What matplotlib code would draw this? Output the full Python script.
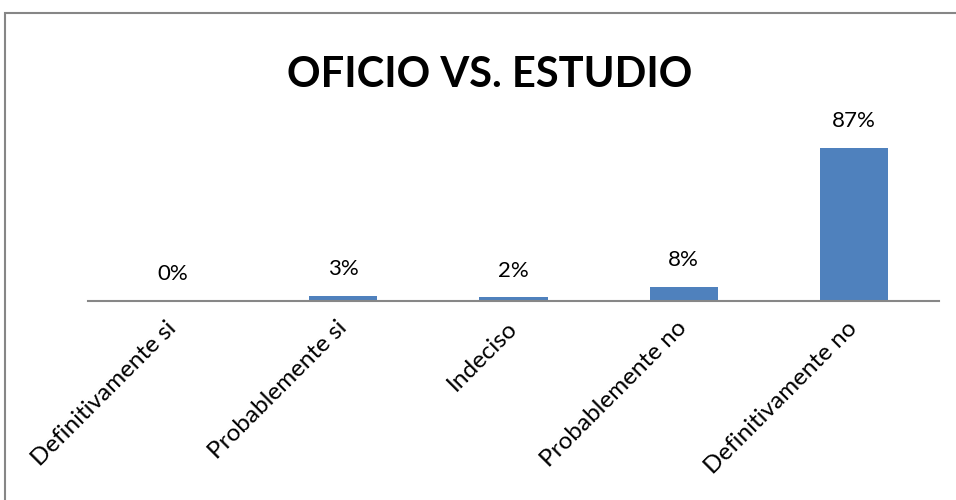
import matplotlib.pyplot as plt
from matplotlib.patches import Rectangle

# datos
categorias = ['Definitivamente si', 'Probablemente si', 'Indeciso',
              'Probablemente no', 'Definitivamente no']
porcentajes = [0, 3, 2, 8, 87]
etiquetas = ['0%', '3%', '2%', '8%', '87%']

plt.rcParams['font.family'] = ['Lato', 'DejaVu Sans']

fig = plt.figure(figsize=(9.56, 5), dpi=100)
ax = fig.add_axes([88/956, 1-301/500, (939-88)/956, (301-125)/500])

x = range(len(categorias))
ax.bar(x, [p/100 for p in porcentajes], width=0.4, color='#4F81BD')

for i, p in enumerate(porcentajes):
    ax.annotate(etiquetas[i], (i, p/100), xytext=(0, 12), textcoords='offset points',
                ha='center', va='bottom', fontsize=16)

ax.set_xlim(-0.5, len(categorias) - 0.5)
ax.set_ylim(0, 1)
ax.set_yticks([])
ax.set_xticks(list(x))
ax.set_xticklabels(categorias, rotation=45, ha='right', va='center',
                   rotation_mode='anchor', fontsize=17.5)
ax.tick_params(axis='x', length=0, pad=17)
for s in ['top', 'right', 'left']:
    ax.spines[s].set_visible(False)
ax.spines['bottom'].set_color('#878787')
ax.spines['bottom'].set_linewidth(1.5)

fig.text(490/956, 1-75/500, 'OFICIO VS. ESTUDIO', ha='center', va='center',
         fontsize=30, fontweight='bold')

# marco del grafico
fig.patches.append(Rectangle((5/956, -0.1), 2, 1-13/500+0.1, transform=fig.transFigure,
                             fill=False, edgecolor='#868686', linewidth=1.5))

fig.savefig('out.png', dpi=100)
